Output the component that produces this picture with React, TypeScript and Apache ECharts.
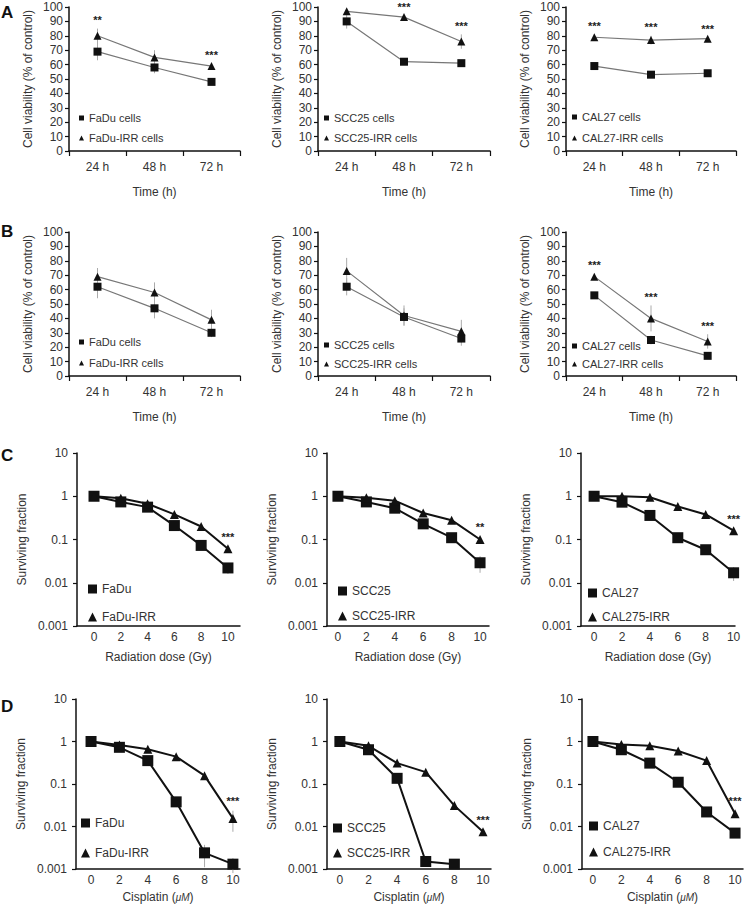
import React, { useEffect, useRef } from "react";
import * as echarts from "echarts";

// ---------- data ----------
const timeCats = ["24 h", "48 h", "72 h"];
const doses = [0, 2, 4, 6, 8, 10];
const doseTicks = [0, 2, 4, 6, 8, 10];

// Panel A (viability)
const aFaDu = [69, 58, 48];
const aFaDuErr = [6, 4, 1];
const aFaDuIRR = [80, 65, 59];
const aFaDuIRRErr = [5, 5, 2];
const aFaDuSig = ["**", "", "***"];

const aSCC25 = [90, 62, 61];
const aSCC25Err = [5, 1, 1];
const aSCC25IRR = [97, 93, 76];
const aSCC25IRRErr = [1, 1, 5];
const aSCC25Sig = ["", "***", "***"];

const aCAL27 = [59, 53, 54];
const aCAL27Err = [1, 1, 2];
const aCAL27IRR = [79, 77, 78];
const aCAL27IRRErr = [2, 3, 1];
const aCAL27Sig = ["***", "***", "***"];

// Panel B (viability)
const bFaDu = [62, 47, 30];
const bFaDuErr = [8, 7, 3];
const bFaDuIRR = [69, 58, 39];
const bFaDuIRRErr = [6, 7, 7];
const bFaDuSig = ["", "", ""];

const bSCC25 = [62, 41, 26];
const bSCC25Err = [6, 6, 5];
const bSCC25IRR = [73, 42, 31];
const bSCC25IRRErr = [9, 7, 8];
const bSCC25Sig = ["", "", ""];

const bCAL27 = [56, 25, 14];
const bCAL27Err = [1, 3, 2];
const bCAL27IRR = [69, 40, 24];
const bCAL27IRRErr = [2, 9, 5];
const bCAL27Sig = ["***", "***", "***"];

// Panel C (radiation survival)
const cFaDu = [1, 0.74, 0.56, 0.21, 0.073, 0.022];
const cFaDuErr = [0, 0.05, 0.05, 0.03, 0.01, 0.006];
const cFaDuIRR = [1, 0.9, 0.67, 0.38, 0.2, 0.061];
const cFaDuIRRErr = [0, 0.05, 0.05, 0.03, 0.02, 0.008];
const cFaDuSig = ["", "", "", "", "", "***"];

const cSCC25 = [1, 0.74, 0.53, 0.23, 0.11, 0.029];
const cSCC25Err = [0, 0.05, 0.05, 0.04, 0.02, 0.012];
const cSCC25IRR = [1, 0.92, 0.79, 0.41, 0.28, 0.1];
const cSCC25IRRErr = [0, 0.05, 0.05, 0.04, 0.03, 0.015];
const cSCC25Sig = ["", "", "", "", "", "**"];

const cCAL27 = [1, 0.73, 0.36, 0.11, 0.058, 0.017];
const cCAL27Err = [0, 0.05, 0.03, 0.015, 0.012, 0.006];
const cCAL27IRR = [1, 1, 0.95, 0.58, 0.38, 0.16];
const cCAL27IRRErr = [0, 0.05, 0.05, 0.05, 0.04, 0.02];
const cCAL27Sig = ["", "", "", "", "", "***"];

// Panel D (cisplatin survival)
const dFaDu = [1, 0.73, 0.355, 0.038, 0.0024, 0.0013];
const dFaDuErr = [0, 0.05, 0.04, 0.008, 0.0013, 0.0005];
const dFaDuIRR = [1, 0.83, 0.66, 0.44, 0.157, 0.0155];
const dFaDuIRRErr = [0, 0.05, 0.05, 0.04, 0.02, 0.008];
const dFaDuSig = ["", "", "", "", "", "***"];

const dSCC25 = [1, 0.64, 0.136, 0.0015, 0.0013, null];
const dSCC25Err = [0, 0.05, 0.02, 0.0002, 0.0002, 0];
const dSCC25IRR = [1, 0.79, 0.31, 0.19, 0.031, 0.0075];
const dSCC25IRRErr = [0, 0.05, 0.04, 0.02, 0.004, 0.001];
const dSCC25Sig = ["", "", "", "", "", "***"];

const dCAL27 = [1, 0.64, 0.31, 0.11, 0.022, 0.007];
const dCAL27Err = [0, 0.05, 0.03, 0.015, 0.003, 0.001];
const dCAL27IRR = [1, 0.85, 0.79, 0.6, 0.355, 0.02];
const dCAL27IRRErr = [0, 0.05, 0.05, 0.05, 0.04, 0.003];
const dCAL27Sig = ["", "", "", "", "", "***"];

// ---------- layout / style ----------
const FONT = "'Liberation Sans', Arial, Helvetica, sans-serif";
const TEXT = "#333";
const AXIS = "#111";

type Panel = {
  kind: "time" | "log";
  grid: { left: number; top: number; width: number; height: number };
  xRange?: [number, number];
  xName?: string;
  names: [string, string];
  s1: (number | null)[];
  e1: number[];
  s2: (number | null)[];
  e2: number[];
  sig: string[];
  legend: { left: number; top: number; gap: number };
};

const panels: Panel[] = [
  { kind: "time", grid: { left: 69, top: 7, width: 171, height: 144 }, names: ["FaDu cells", "FaDu-IRR cells"], s1: aFaDu, e1: aFaDuErr, s2: aFaDuIRR, e2: aFaDuIRRErr, sig: aFaDuSig, legend: { left: 79, top: 112, gap: 8 } },
  { kind: "time", grid: { left: 318, top: 7, width: 172, height: 144 }, names: ["SCC25 cells", "SCC25-IRR cells"], s1: aSCC25, e1: aSCC25Err, s2: aSCC25IRR, e2: aSCC25IRRErr, sig: aSCC25Sig, legend: { left: 324, top: 112, gap: 8 } },
  { kind: "time", grid: { left: 566, top: 7, width: 170, height: 144 }, names: ["CAL27 cells", "CAL27-IRR cells"], s1: aCAL27, e1: aCAL27Err, s2: aCAL27IRR, e2: aCAL27IRRErr, sig: aCAL27Sig, legend: { left: 572, top: 111, gap: 9 } },
  { kind: "time", grid: { left: 69, top: 232, width: 171, height: 144 }, names: ["FaDu cells", "FaDu-IRR cells"], s1: bFaDu, e1: bFaDuErr, s2: bFaDuIRR, e2: bFaDuIRRErr, sig: bFaDuSig, legend: { left: 79, top: 336, gap: 9 } },
  { kind: "time", grid: { left: 318, top: 232, width: 172, height: 144 }, names: ["SCC25 cells", "SCC25-IRR cells"], s1: bSCC25, e1: bSCC25Err, s2: bSCC25IRR, e2: bSCC25IRRErr, sig: bSCC25Sig, legend: { left: 324, top: 339, gap: 7 } },
  { kind: "time", grid: { left: 566, top: 232, width: 170, height: 144 }, names: ["CAL27 cells", "CAL27-IRR cells"], s1: bCAL27, e1: bCAL27Err, s2: bCAL27IRR, e2: bCAL27IRRErr, sig: bCAL27Sig, legend: { left: 572, top: 340, gap: 6 } },
  { kind: "log", grid: { left: 77, top: 453, width: 163, height: 173 }, xRange: [-1.27, 10.9], xName: "Radiation dose (Gy)", names: ["FaDu", "FaDu-IRR"], s1: cFaDu, e1: cFaDuErr, s2: cFaDuIRR, e2: cFaDuIRRErr, sig: cFaDuSig, legend: { left: 88, top: 583, gap: 16 } },
  { kind: "log", grid: { left: 327, top: 453, width: 162, height: 173 }, xRange: [-0.77, 10.63], xName: "Radiation dose (Gy)", names: ["SCC25", "SCC25-IRR"], s1: cSCC25, e1: cSCC25Err, s2: cSCC25IRR, e2: cSCC25IRRErr, sig: cSCC25Sig, legend: { left: 338, top: 585, gap: 13 } },
  { kind: "log", grid: { left: 581, top: 453, width: 154, height: 173 }, xRange: [-0.94, 10.1], xName: "Radiation dose (Gy)", names: ["CAL27", "CAL275-IRR"], s1: cCAL27, e1: cCAL27Err, s2: cCAL27IRR, e2: cCAL27IRRErr, sig: cCAL27Sig, legend: { left: 588, top: 587, gap: 12 } },
  { kind: "log", grid: { left: 76, top: 699, width: 164, height: 170 }, xRange: [-1.06, 10.5], xName: "Cisplatin ({it|μM})", names: ["FaDu", "FaDu-IRR"], s1: dFaDu, e1: dFaDuErr, s2: dFaDuIRR, e2: dFaDuIRRErr, sig: dFaDuSig, legend: { left: 81, top: 817, gap: 18 } },
  { kind: "log", grid: { left: 327, top: 699, width: 164, height: 170 }, xRange: [-0.9, 10.56], xName: "Cisplatin ({it|μM})", names: ["SCC25", "SCC25-IRR"], s1: dSCC25, e1: dSCC25Err, s2: dSCC25IRR, e2: dSCC25IRRErr, sig: dSCC25Sig, legend: { left: 333, top: 822, gap: 13 } },
  { kind: "log", grid: { left: 582, top: 699, width: 161, height: 170 }, xRange: [-0.77, 10.56], xName: "Cisplatin ({it|μM})", names: ["CAL27", "CAL275-IRR"], s1: dCAL27, e1: dCAL27Err, s2: dCAL27IRR, e2: dCAL27IRRErr, sig: dCAL27Sig, legend: { left: 589, top: 820, gap: 14 } },
];

const letters = [
  { t: "A", y: 12 },
  { t: "B", y: 231 },
  { t: "C", y: 455 },
  { t: "D", y: 706 },
];

function logLabel(v: number) {
  return String(Number(v.toPrecision(1)));
}

function buildOption() {
  const grid: any[] = [];
  const xAxis: any[] = [];
  const yAxis: any[] = [];
  const legend: any[] = [];
  const series: any[] = [];

  panels.forEach((p, i) => {
    const isTime = p.kind === "time";
    const xs = isTime ? [0, 1, 2] : doses;
    grid.push({ ...p.grid, containLabel: false });

    const axisLine = { show: true, onZero: false, lineStyle: { color: AXIS, width: 1.5 } };
    const labelStyle = { fontSize: 12, color: TEXT, fontFamily: FONT };

    if (isTime) {
      xAxis.push({
        type: "category",
        gridIndex: i,
        data: timeCats,
        boundaryGap: true,
        axisLine,
        axisTick: { show: true, length: 5, lineStyle: { color: AXIS, width: 1.2 } },
        axisLabel: { ...labelStyle, margin: 10 },
        name: "Time (h)",
        nameLocation: "middle",
        nameGap: 35,
        nameTextStyle: { ...labelStyle },
        splitLine: { show: false },
      });
      yAxis.push({
        type: "value",
        gridIndex: i,
        min: 0,
        max: 100,
        interval: 10,
        axisLine,
        axisTick: { show: true, length: 4, lineStyle: { color: AXIS, width: 1.2 } },
        axisLabel: { ...labelStyle, margin: 6 },
        splitLine: { show: false },
        name: "Cell viability (% of control)",
        nameLocation: "middle",
        nameGap: 35,
        nameTextStyle: { ...labelStyle },
      });
    } else {
      xAxis.push({
        type: "value",
        gridIndex: i,
        min: p.xRange![0],
        max: p.xRange![1],
        axisLine,
        axisTick: { show: false },
        axisLabel: { ...labelStyle, margin: 5, customValues: doseTicks },
        splitLine: { show: false },
        name: p.xName,
        nameLocation: "middle",
        nameGap: i >= 9 ? 22 : 25,
        nameTextStyle: { ...labelStyle, rich: { it: { ...labelStyle, fontStyle: "italic", fontSize: 10 } } },
      });
      yAxis.push({
        type: "log",
        logBase: 10,
        gridIndex: i,
        min: 0.001,
        max: 10,
        axisLine,
        axisTick: { show: true, length: 4, lineStyle: { color: AXIS, width: 1.2 } },
        axisLabel: { ...labelStyle, margin: 9, formatter: logLabel },
        splitLine: { show: false },
        minorTick: { show: false },
        name: "Surviving fraction",
        nameLocation: "middle",
        nameGap: 49,
        nameTextStyle: { ...labelStyle },
      });
    }

    // legend
    const iconSize = isTime ? 5 : 9;
    legend.push({
      orient: "vertical",
      left: p.legend.left,
      top: p.legend.top,
      padding: 0,
      itemGap: p.legend.gap,
      itemWidth: iconSize,
      itemHeight: iconSize,
      selectedMode: false,
      data: [
        { name: p.names[0], icon: "rect", itemStyle: { color: "#111" } },
        { name: p.names[1], icon: "triangle", itemStyle: { color: "#111" } },
      ],
      textStyle: { fontSize: isTime ? 11 : 12, color: TEXT, fontFamily: FONT, lineHeight: 12 },
    });

    // error bars
    const errData: number[][] = [];
    [[p.s1, p.e1], [p.s2, p.e2]].forEach(([s, e]: any) => {
      s.forEach((v: number | null, k: number) => {
        if (v != null && e[k] > 0) errData.push([xs[k], v - e[k], v + e[k]]);
      });
    });
    series.push({
      type: "custom",
      xAxisIndex: i,
      yAxisIndex: i,
      z: 1,
      silent: true,
      encode: { x: 0, y: [1, 2] },
      data: errData,
      renderItem: (_params: any, api: any) => {
        const x = api.value(0);
        const a = api.coord([x, api.value(1)]);
        const b = api.coord([x, api.value(2)]);
        return {
          type: "line",
          shape: { x1: a[0], y1: a[1], x2: b[0], y2: b[1] },
          style: { stroke: "#aaa", lineWidth: 1 },
        };
      },
    });

    // lines
    const mk = (s: (number | null)[]) =>
      isTime ? s.slice() : s.map((v, k) => (v == null ? null : [doses[k], v])).filter((d) => d != null);
    const lineColor = isTime ? "#777" : "#111";
    const lineWidth = isTime ? 1.2 : 2;
    series.push({
      type: "line",
      name: p.names[0],
      xAxisIndex: i,
      yAxisIndex: i,
      z: 2,
      data: mk(p.s1),
      symbol: "rect",
      symbolSize: isTime ? 8 : 11,
      itemStyle: { color: "#111" },
      lineStyle: { color: lineColor, width: lineWidth },
    });
    series.push({
      type: "line",
      name: p.names[1],
      xAxisIndex: i,
      yAxisIndex: i,
      z: 2,
      data: mk(p.s2),
      symbol: "triangle",
      symbolSize: isTime ? 8 : 9,
      itemStyle: { color: "#111" },
      lineStyle: { color: lineColor, width: lineWidth },
    });

    // significance
    const sigData: any[] = [];
    p.sig.forEach((txt, k) => {
      if (!txt) return;
      const v1 = p.s1[k] == null ? 0 : (p.s1[k] as number) + p.e1[k];
      const v2 = p.s2[k] == null ? 0 : (p.s2[k] as number) + p.e2[k];
      const top = isTime ? Math.max(v1, v2) + 2 : Math.max(v1, v2) * 1.25;
      sigData.push({
        value: [xs[k], top],
        label: { formatter: txt },
      });
    });
    series.push({
      type: "scatter",
      xAxisIndex: i,
      yAxisIndex: i,
      z: 3,
      clip: false,
      silent: true,
      symbol: "circle",
      symbolSize: 0.1,
      itemStyle: { color: "#222", opacity: 1 },
      label: {
        show: true,
        position: "top",
        distance: 0,
        fontSize: 11,
        fontWeight: "bold",
        color: "#222",
        fontFamily: FONT,
      },
      data: sigData,
    });
  });

  return {
    animation: false,
    backgroundColor: "#fff",
    color: ["#111"],
    grid,
    xAxis,
    yAxis,
    legend,
    series,
    graphic: letters.map((l) => ({
      type: "text",
      x: 1,
      y: l.y,
      style: {
        text: l.t,
        fontSize: 17,
        fontWeight: "bold",
        fontFamily: FONT,
        fill: "#111",
        verticalAlign: "middle",
        align: "left",
      },
    })),
  };
}

export default function App() {
  const ref = useRef<HTMLDivElement>(null);
  useEffect(() => {
    const chart = echarts.init(ref.current!, null, { renderer: "svg" });
    chart.setOption(buildOption() as any);
    return () => chart.dispose();
  }, []);
  return (
    <div
      ref={ref}
      style={{ position: "absolute", left: 0, top: 0, width: 746, height: 908, background: "#fff" }}
    />
  );
}
